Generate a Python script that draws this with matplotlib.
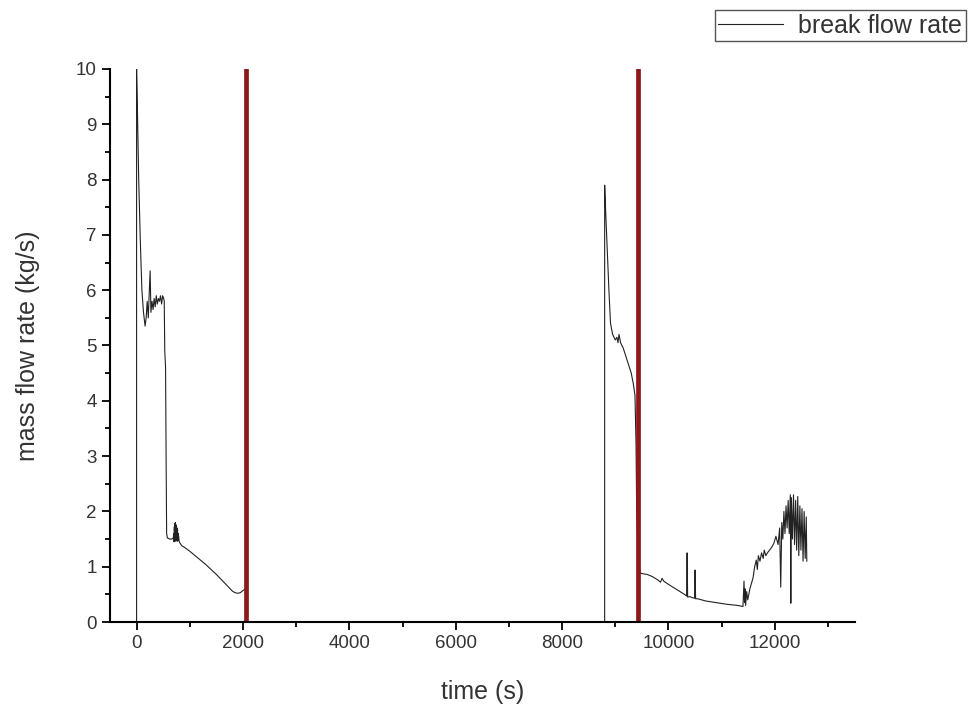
import matplotlib.pyplot as plt
from matplotlib.ticker import MultipleLocator

plt.rcParams['font.family'] = ['Liberation Sans', 'DejaVu Sans']

# first blowdown period (s, kg/s)
t1 = [0, 0, 15, 40, 70, 100, 130, 160, 180, 200, 220, 240, 255, 270, 290, 310,
      330, 350, 370, 390, 410, 430, 450, 470, 490, 510, 520, 530, 545, 555, 565,
      580, 620, 660, 690, 700, 705, 710, 715, 720, 725, 730, 735, 740, 745, 750,
      755, 760, 765, 770, 775, 780, 785, 790, 800, 820, 850, 900, 1000, 1100,
      1200, 1300, 1400, 1500, 1600, 1700, 1800, 1850, 1900, 1950, 2000, 2050]
v1 = [0, 10.0, 9.3, 8.0, 6.9, 6.0, 5.6, 5.35, 5.5, 5.8, 5.5, 6.0, 6.35, 5.6,
      5.8, 5.65, 5.85, 5.7, 5.9, 5.75, 5.85, 5.8, 5.9, 5.75, 5.9, 5.85, 5.8,
      4.9, 4.6, 3.0, 1.6, 1.52, 1.5, 1.5, 1.52, 1.6, 1.45, 1.72, 1.48, 1.78,
      1.46, 1.8, 1.5, 1.76, 1.47, 1.74, 1.5, 1.7, 1.46, 1.66, 1.5, 1.6, 1.48,
      1.55, 1.46, 1.42, 1.38, 1.35, 1.28, 1.2, 1.12, 1.04, 0.95, 0.86, 0.76,
      0.66, 0.56, 0.53, 0.52, 0.53, 0.57, 0.6]

# second blowdown period
t2 = [8800, 8800, 8820, 8850, 8880, 8910, 8950, 9000, 9030, 9050, 9070, 9100,
      9150, 9200, 9250, 9300, 9340, 9370, 9390, 9400, 9410, 9420, 9440, 9460,
      9480, 9530, 9600, 9700, 9800, 9850, 9880, 9910, 10000, 10100, 10200,
      10300, 10340, 10350, 10360, 10400, 10450, 10490, 10500, 10510, 10550,
      10700, 10900, 11100, 11300, 11400, 11420, 11430, 11440, 11450, 11470,
      11490, 11510, 11530, 11560, 11590, 11620, 11650, 11670, 11690, 11720,
      11750, 11780, 11800, 11830, 11860, 11900, 11940, 11980, 12020, 12060,
      12090, 12110, 12130, 12150, 12170, 12190, 12210, 12230, 12250, 12270,
      12290, 12300, 12310, 12330, 12350, 12370, 12390, 12410, 12430, 12450,
      12470, 12490, 12510, 12530, 12550, 12570, 12590, 12600]
v2 = [0, 7.9, 7.4, 6.7, 6.0, 5.4, 5.2, 5.1, 5.15, 5.05, 5.2, 5.05, 4.95,
      4.8, 4.65, 4.5, 4.3, 4.1, 3.2, 2.2, 1.8, 1.5, 1.2, 0.95, 0.88, 0.87,
      0.86, 0.82, 0.76, 0.72, 0.79, 0.74, 0.68, 0.62, 0.56, 0.5, 0.47, 1.25,
      0.45, 0.46, 0.44, 0.43, 0.94, 0.42, 0.42, 0.38, 0.35, 0.32, 0.3, 0.28,
      0.74, 0.35, 0.6, 0.3, 0.55, 0.4, 0.5, 0.6, 0.7, 0.8, 1.0, 1.12, 0.95,
      1.2, 1.1, 1.25, 1.15, 1.3, 1.2, 1.25, 1.3, 1.35, 1.42, 1.55, 1.4, 1.7,
      0.63, 1.8, 1.5, 2.0, 1.6, 2.1, 1.7, 2.2, 1.6, 2.3, 0.34, 2.25, 1.5,
      2.3, 1.4, 2.2, 1.3, 2.27, 1.2, 2.1, 1.3, 2.05, 1.1, 2.0, 1.15, 1.9, 1.1]

# event markers
event_times = [2050, 9420]

fig = plt.figure(figsize=(9.69, 7.09), dpi=100)
ax = fig.add_axes([0.1135, 0.1227, 0.7685, 0.78])

ax.plot(t1, v1, color='#222222', lw=0.8, label='break flow rate')
ax.plot(t2, v2, color='#222222', lw=0.8)
for t in event_times:
    ax.axvline(t, color='#8b1a1a', lw=3.4)

ax.set_xlim(-500, 13500)
ax.set_ylim(0, 10)
ax.xaxis.set_major_locator(MultipleLocator(2000))
ax.xaxis.set_minor_locator(MultipleLocator(1000))
ax.yaxis.set_major_locator(MultipleLocator(1))
ax.yaxis.set_minor_locator(MultipleLocator(0.5))
ax.spines['top'].set_visible(False)
ax.spines['right'].set_visible(False)
ax.spines['left'].set_linewidth(1.5)
ax.spines['bottom'].set_linewidth(1.5)
ax.tick_params(which='major', direction='out', length=6, width=1.3,
               labelsize=13.5, labelcolor='#333333')
ax.tick_params(which='minor', direction='out', length=3.5, width=1.3)

ax.set_xlabel('time (s)', fontsize=18, labelpad=20, color='#333333')
ax.set_ylabel('mass flow rate (kg/s)', fontsize=18, labelpad=26, color='#333333')

leg = fig.legend(loc='upper right', bbox_to_anchor=(0.997, 0.986),
                 borderaxespad=0, fontsize=18, fancybox=False, handlelength=2.6,
                 borderpad=0.15, handletextpad=0.6, framealpha=1)
leg.get_frame().set_edgecolor('#555555')
leg.get_frame().set_linewidth(1.0)
for txt in leg.get_texts():
    txt.set_color('#333333')

plt.savefig('out.png', dpi=100)
